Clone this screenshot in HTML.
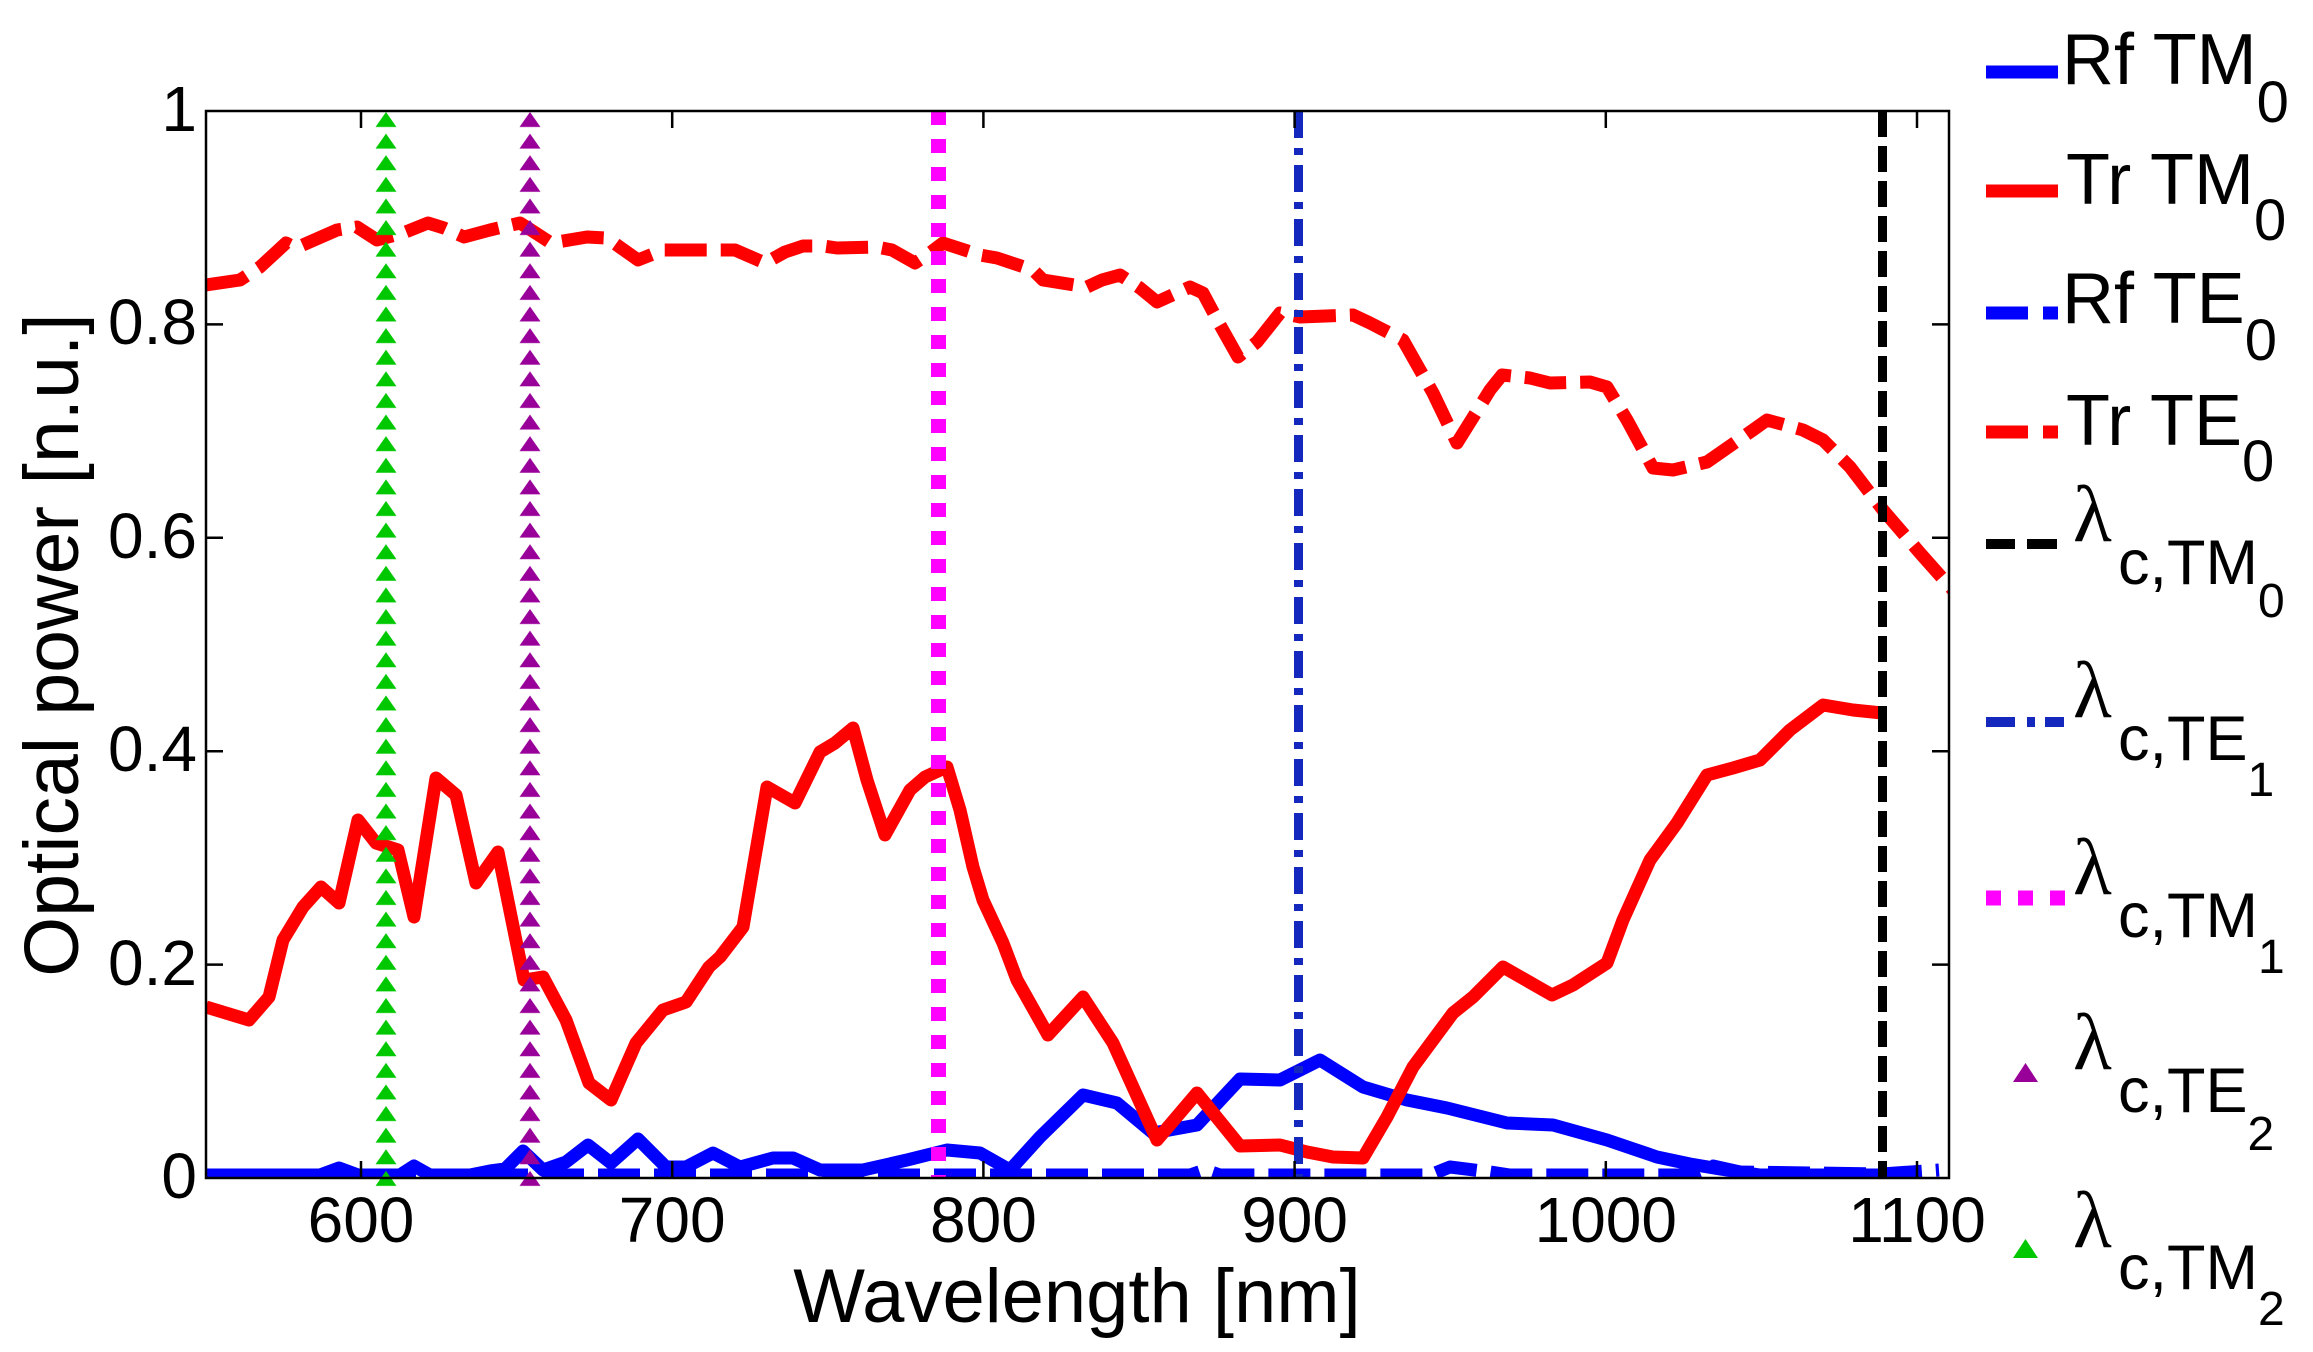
<!DOCTYPE html>
<html>
<head>
<meta charset="utf-8">
<style>
  html,body{margin:0;padding:0;background:#fff;}
  svg{display:block;}
  text{font-family:"Liberation Sans",Arial,sans-serif;fill:#000;}
  .lam{font-family:"Liberation Serif","DejaVu Serif",serif;}
</style>
</head>
<body>
<svg width="2313" height="1352" viewBox="0 0 2313 1352" xmlns="http://www.w3.org/2000/svg">
<rect x="0" y="0" width="2313" height="1352" fill="#ffffff"/>
<defs>
  <clipPath id="plot"><rect x="206" y="111" width="1743" height="1067"/></clipPath>
  <pattern id="gtri" x="375.5" y="112" width="21" height="21.61" patternUnits="userSpaceOnUse">
    <polygon points="10.5,0 0,15 21,15" fill="#00c800"/>
  </pattern>
  <pattern id="ptri" x="519.5" y="112" width="21" height="21.61" patternUnits="userSpaceOnUse">
    <polygon points="10.5,0 0,15 21,15" fill="#990099"/>
  </pattern>
</defs>

<g clip-path="url(#plot)" fill="none" stroke-linejoin="round">
  <!-- Rf TM0 -->
  <path stroke="#0000ff" stroke-width="13" d="M206,1175 L320,1175 L339,1168 L358,1175 L400,1175 L414,1166 L430,1175 L470,1175 L490,1171 L505,1169 L523,1151 L543,1170 L566,1162 L588,1145 L611,1163 L638,1139 L666,1167 L686,1167 L713,1153 L740,1167 L773,1158 L793,1158 L820,1170 L863,1170 L907,1160 L947,1150 L980,1153 L1010,1170 L1040,1137 L1083,1095 L1117,1103 L1153,1133 L1197,1125 L1240,1079 L1280,1080 L1320,1060 L1363,1087 L1407,1100 L1447,1108 L1507,1123 L1553,1125 L1607,1140 L1657,1157 L1690,1164 L1720,1169 L1760,1175 L1882,1175"/>
  <!-- Tr TM0 -->
  <path stroke="#ff0000" stroke-width="13" d="M206,1007 L249,1020 L269,997 L283,940 L303,907 L321,887 L339,903 L358,820 L376,843 L398,850 L414,917 L436,778 L456,795 L476,883 L498,852 L524,980 L543,977 L566,1020 L589,1083 L611,1100 L636,1043 L663,1010 L686,1002 L709,967 L720,957 L743,927 L767,787 L795,803 L820,752 L835,743 L853,728 L867,780 L885,835 L910,790 L925,777 L947,767 L960,810 L973,867 L983,900 L1003,943 L1017,980 L1048,1035 L1083,997 L1113,1043 L1157,1140 L1197,1093 L1240,1146 L1280,1145 L1307,1152 L1333,1157 L1363,1158 L1387,1117 L1413,1067 L1453,1013 L1473,997 L1503,967 L1552,995 L1573,985 L1607,963 L1623,920 L1650,860 L1677,823 L1707,775 L1733,768 L1760,760 L1790,730 L1823,705 L1853,710 L1882,713"/>
  <!-- Rf TE0 -->
  <path stroke="#0000ff" stroke-width="13" stroke-dasharray="42 14" d="M206,1175 L1190,1175 L1205,1170 L1220,1175 L1430,1175 L1450,1167 L1490,1172 L1510,1175 L1690,1175 L1713,1166 L1740,1172 L1882,1174 L1939,1170"/>
  <!-- Tr TE0 -->
  <path stroke="#ff0000" stroke-width="13" stroke-dasharray="42 14" d="M206,285 L240,280 L260,267 L286,243 L296,248 L337,230 L357,227 L377,240 L403,233 L428,223 L444,228 L464,237 L490,230 L520,223 L531,230 L551,243 L587,237 L607,238 L638,260 L663,250 L714,250 L735,250 L765,263 L785,252 L803,246 L823,246 L837,248 L877,247 L892,250 L915,263 L927,255 L943,243 L980,255 L997,258 L1033,270 L1043,280 L1087,287 L1102,280 L1120,275 L1140,288 L1157,302 L1190,287 L1203,293 L1220,325 L1238,357 L1257,342 L1280,313 L1300,317 L1353,315 L1370,323 L1403,340 L1433,393 L1457,443 L1467,427 L1490,390 L1502,375 L1530,378 L1550,383 L1590,382 L1607,387 L1627,420 L1653,468 L1673,470 L1707,462 L1753,430 L1767,420 L1803,430 L1823,440 L1850,467 L1883,510 L1920,553 L1960,598"/>
  <!-- lambda c TM0 -->
  <line x1="1882.5" y1="111" x2="1882.5" y2="1178" stroke="#000000" stroke-width="9" stroke-dasharray="26 9"/>
  <!-- lambda c TE1 -->
  <line x1="1298.5" y1="111" x2="1298.5" y2="1178" stroke="#1428be" stroke-width="9" stroke-dasharray="27 10 7 10"/>
  <!-- lambda c TM1 -->
  <line x1="938.5" y1="111" x2="938.5" y2="1178" stroke="#ff00ff" stroke-width="15" stroke-dasharray="14 14"/>
</g>

<!-- triangle marker lines (not clipped) -->
<rect x="519.5" y="112" width="21" height="1075" fill="url(#ptri)"/>
<rect x="375.5" y="112" width="21" height="1075" fill="url(#gtri)"/>

<!-- axes box -->
<rect x="206" y="111" width="1743" height="1067" fill="none" stroke="#000" stroke-width="2.5"/>
<g stroke="#000" stroke-width="2.5">
  <!-- x ticks bottom & top -->
  <line x1="361" y1="1178" x2="361" y2="1161"/><line x1="361" y1="111" x2="361" y2="128"/>
  <line x1="672.2" y1="1178" x2="672.2" y2="1161"/><line x1="672.2" y1="111" x2="672.2" y2="128"/>
  <line x1="983.4" y1="1178" x2="983.4" y2="1161"/><line x1="983.4" y1="111" x2="983.4" y2="128"/>
  <line x1="1294.6" y1="1178" x2="1294.6" y2="1161"/><line x1="1294.6" y1="111" x2="1294.6" y2="128"/>
  <line x1="1605.8" y1="1178" x2="1605.8" y2="1161"/><line x1="1605.8" y1="111" x2="1605.8" y2="128"/>
  <line x1="1917" y1="1178" x2="1917" y2="1161"/><line x1="1917" y1="111" x2="1917" y2="128"/>
  <!-- y ticks left & right -->
  <line x1="206" y1="964.6" x2="223" y2="964.6"/><line x1="1949" y1="964.6" x2="1932" y2="964.6"/>
  <line x1="206" y1="751.2" x2="223" y2="751.2"/><line x1="1949" y1="751.2" x2="1932" y2="751.2"/>
  <line x1="206" y1="537.8" x2="223" y2="537.8"/><line x1="1949" y1="537.8" x2="1932" y2="537.8"/>
  <line x1="206" y1="324.4" x2="223" y2="324.4"/><line x1="1949" y1="324.4" x2="1932" y2="324.4"/>
</g>

<!-- y tick labels -->
<g font-size="64" text-anchor="end">
  <text x="197" y="1198">0</text>
  <text x="197" y="985">0.2</text>
  <text x="197" y="771">0.4</text>
  <text x="197" y="558">0.6</text>
  <text x="197" y="344">0.8</text>
  <text x="197" y="131">1</text>
</g>
<!-- x tick labels -->
<g font-size="64" text-anchor="middle">
  <text x="361" y="1242">600</text>
  <text x="672.2" y="1242">700</text>
  <text x="983.4" y="1242">800</text>
  <text x="1294.6" y="1242">900</text>
  <text x="1605.8" y="1242">1000</text>
  <text x="1917" y="1242">1100</text>
</g>

<!-- axis titles -->
<text x="1077" y="1322" font-size="76" text-anchor="middle">Wavelength [nm]</text>
<text transform="translate(78,645) rotate(-90)" font-size="77" text-anchor="middle">Optical power [n.u.]</text>

<!-- legend -->
<line x1="1986" y1="72" x2="2058" y2="72" stroke="#0000ff" stroke-width="13"/>
<text x="2062" y="84" font-size="72">Rf TM<tspan font-size="58" dy="38">0</tspan></text>

<line x1="1986" y1="191" x2="2058" y2="191" stroke="#ff0000" stroke-width="13"/>
<text x="2066" y="204" font-size="72">Tr TM<tspan font-size="58" dy="36">0</tspan></text>

<rect x="1986" y="306.5" width="42" height="13" fill="#0000ff"/>
<rect x="2043" y="306.5" width="15" height="13" fill="#0000ff"/>
<text x="2062" y="323" font-size="72">Rf TE<tspan font-size="58" dy="37">0</tspan></text>

<rect x="1986" y="425.5" width="42" height="13" fill="#ff0000"/>
<rect x="2043" y="425.5" width="15" height="13" fill="#ff0000"/>
<text x="2066" y="445" font-size="72">Tr TE<tspan font-size="58" dy="36">0</tspan></text>

<rect x="1986" y="539" width="29" height="10" fill="#000"/>
<rect x="2027" y="539" width="30" height="10" fill="#000"/>
<text class="lam" x="2073" y="541" font-size="80">λ</text>
<text x="2118" y="584" font-size="63">c,TM<tspan font-size="48" dy="33">0</tspan></text>

<rect x="1986" y="717" width="29" height="10" fill="#1428be"/>
<rect x="2027" y="717" width="8" height="10" fill="#1428be"/>
<rect x="2045" y="717" width="19" height="10" fill="#1428be"/>
<text class="lam" x="2073" y="717" font-size="80">λ</text>
<text x="2118" y="760" font-size="63">c,TE<tspan font-size="48" dy="36">1</tspan></text>

<rect x="1986" y="890.5" width="15" height="15" fill="#ff00ff"/>
<rect x="2018" y="890.5" width="15" height="15" fill="#ff00ff"/>
<rect x="2050" y="890.5" width="15" height="15" fill="#ff00ff"/>
<text class="lam" x="2073" y="894" font-size="80">λ</text>
<text x="2118" y="937" font-size="63">c,TM<tspan font-size="48" dy="36">1</tspan></text>

<polygon points="2025.5,1063 2013,1082 2038,1082" fill="#990099"/>
<text class="lam" x="2073" y="1069" font-size="80">λ</text>
<text x="2118" y="1112" font-size="63">c,TE<tspan font-size="48" dy="38">2</tspan></text>

<polygon points="2025.5,1239 2013,1258 2038,1258" fill="#00c800"/>
<text class="lam" x="2073" y="1247" font-size="80">λ</text>
<text x="2118" y="1289" font-size="63">c,TM<tspan font-size="48" dy="36">2</tspan></text>
</svg>
</body>
</html>
